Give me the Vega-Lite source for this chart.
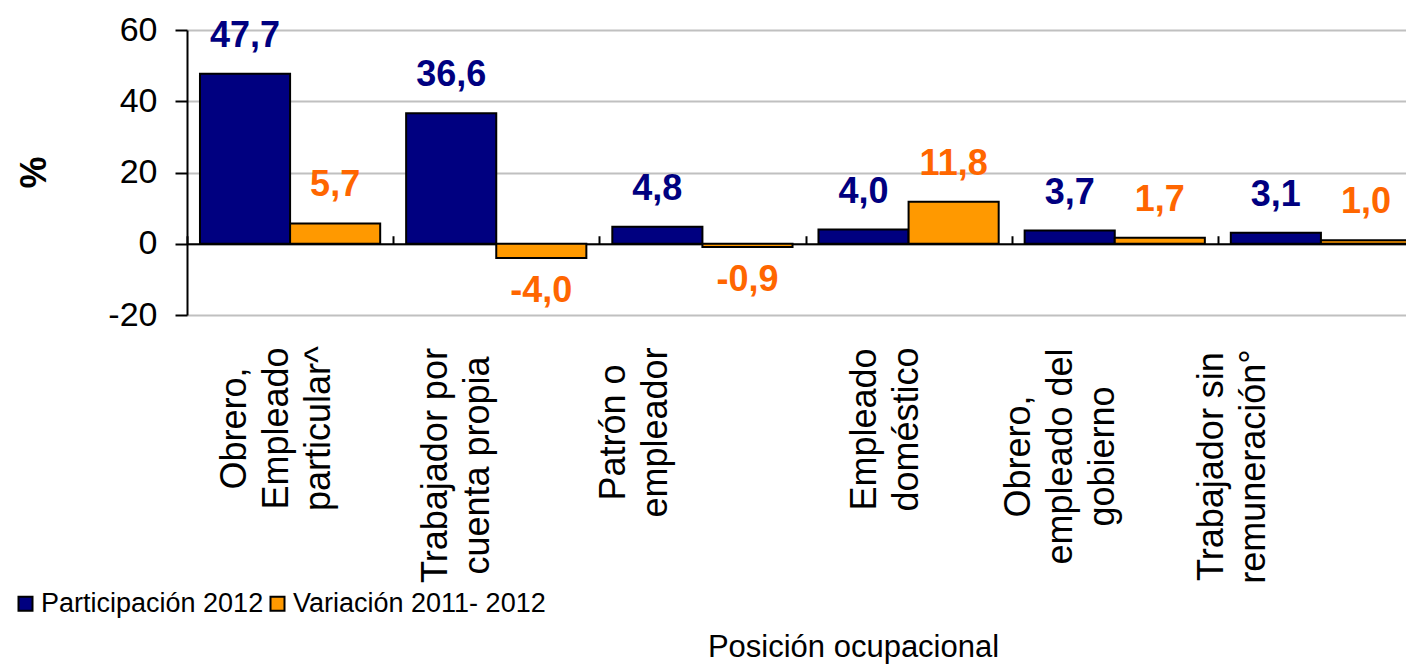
{
  "$schema": "https://vega.github.io/schema/vega-lite/v6.json",
  "autosize": {"type": "none"},
  "padding": {"left": 187, "top": 30, "right": 0, "bottom": 351},
  "width": 1237,
  "height": 285,
  "config": {
    "font": "Liberation Sans",
    "view": {"stroke": null},
    "locale": {"number": {"decimal": ",", "thousands": ".", "grouping": [3], "currency": ["", " €"], "minus": "-"}}
  },
  "data": {
    "values": [
      {"cat": "Obrero,|Empleado|particular^", "serie": "Participación 2012", "value": 47.7},
      {"cat": "Obrero,|Empleado|particular^", "serie": "Variación 2011- 2012", "value": 5.7},
      {"cat": "Trabajador por|cuenta propia", "serie": "Participación 2012", "value": 36.6},
      {"cat": "Trabajador por|cuenta propia", "serie": "Variación 2011- 2012", "value": -4.0},
      {"cat": "Patrón o|empleador", "serie": "Participación 2012", "value": 4.8},
      {"cat": "Patrón o|empleador", "serie": "Variación 2011- 2012", "value": -0.9},
      {"cat": "Empleado|doméstico", "serie": "Participación 2012", "value": 4.0},
      {"cat": "Empleado|doméstico", "serie": "Variación 2011- 2012", "value": 11.8},
      {"cat": "Obrero,|empleado del|gobierno", "serie": "Participación 2012", "value": 3.7},
      {"cat": "Obrero,|empleado del|gobierno", "serie": "Variación 2011- 2012", "value": 1.7},
      {"cat": "Trabajador sin|remuneración°", "serie": "Participación 2012", "value": 3.1},
      {"cat": "Trabajador sin|remuneración°", "serie": "Variación 2011- 2012", "value": 1.0}
    ]
  },
  "resolve": {"axis": {"x": "independent"}},
  "layer": [
    {
      "mark": {"type": "bar", "stroke": "black", "strokeWidth": 2},
      "encoding": {
        "x": {
          "field": "cat", "type": "nominal", "sort": null,
          "scale": {"paddingInner": 0, "paddingOuter": 0},
          "axis": {
            "orient": "bottom",
            "domain": false, "ticks": false, "tickSize": 0, "grid": false,
            "labelExpr": "split(datum.label, '|')",
            "labelAngle": 270, "labelAlign": "center", "labelBaseline": "middle",
            "labelFontSize": 36, "labelLineHeight": 42, "labelColor": "black",
            "labelLimit": 0,
            "labelPadding": {"condition": [
              {"test": "datum.value === 'Obrero,|Empleado|particular^'", "value": 113},
              {"test": "datum.value === 'Trabajador por|cuenta propia'", "value": 150},
              {"test": "datum.value === 'Patrón o|empleador'", "value": 117},
              {"test": "datum.value === 'Empleado|doméstico'", "value": 114},
              {"test": "datum.value === 'Obrero,|empleado del|gobierno'", "value": 141}
            ], "value": 151},
            "labelOffset": {"condition": [
              {"test": "datum.value === 'Obrero,|Empleado|particular^'", "value": -55},
              {"test": "datum.value === 'Trabajador por|cuenta propia'", "value": -60},
              {"test": "datum.value === 'Patrón o|empleador'", "value": -88},
              {"test": "datum.value === 'Empleado|doméstico'", "value": -44},
              {"test": "datum.value === 'Obrero,|empleado del|gobierno'", "value": -96}
            ], "value": -109},
            "title": "Posición ocupacional",
            "titleFontSize": 31, "titleFontWeight": "normal", "titleColor": "black",
            "titleX": 666, "titleY": 341, "titleAlign": "center", "titleBaseline": "alphabetic"
          }
        },
        "xOffset": {
          "field": "serie", "type": "nominal",
          "sort": ["Participación 2012", "Variación 2011- 2012"],
          "scale": {"paddingInner": 0, "paddingOuter": 0.144}
        },
        "y": {
          "field": "value", "type": "quantitative",
          "scale": {"domain": [-20, 60], "nice": false, "zero": false},
          "axis": {
            "values": [-20, 0, 20, 40, 60],
            "title": "%", "titleFontSize": 36, "titleFontWeight": "bold", "titleColor": "black",
            "titleAngle": 270, "titleX": -142, "titleY": 142, "titleAlign": "center", "titleBaseline": "alphabetic",
            "labelFontSize": 34, "labelColor": "black", "labelPadding": 18,
            "tickSize": 12, "tickWidth": 2, "tickColor": "black",
            "domainColor": "black", "domainWidth": 2,
            "grid": true, "gridColor": "#c0c0c0", "gridWidth": 2
          }
        },
        "fill": {
          "field": "serie", "type": "nominal",
          "sort": ["Participación 2012", "Variación 2011- 2012"],
          "scale": {"domain": ["Participación 2012", "Variación 2011- 2012"], "range": ["#000080", "#FF9900"]},
          "legend": {
            "orient": "none", "legendX": -175, "legendY": 560, "direction": "horizontal",
            "padding": 0,
            "title": null, "symbolType": "square", "symbolSize": 196,
            "symbolStrokeColor": "black", "symbolStrokeWidth": 2,
            "labelFontSize": 27, "labelColor": "black", "labelOffset": 2, "columnPadding": -4,
            "labelLimit": 0
          }
        }
      }
    },
    {
      "transform": [{"filter": "datum.value >= 0"}],
      "mark": {"type": "text", "fontSize": 36, "fontWeight": "bold", "baseline": "alphabetic", "dy": -27},
      "encoding": {
        "x": {
          "field": "cat", "type": "nominal", "sort": null,
          "axis": {
            "orient": "top", "offset": -213.75,
            "labels": false, "ticks": true, "tickSize": 8, "tickWidth": 2, "tickColor": "black",
            "tickBand": "extent", "grid": false,
            "domain": true, "domainColor": "black", "domainWidth": 2, "title": null
          }
        },
        "xOffset": {"field": "serie", "type": "nominal", "sort": ["Participación 2012", "Variación 2011- 2012"]},
        "y": {"field": "value", "type": "quantitative"},
        "text": {"field": "value", "type": "quantitative", "format": ".1f"},
        "color": {
          "field": "serie", "type": "nominal",
          "scale": {"domain": ["Participación 2012", "Variación 2011- 2012"], "range": ["#000080", "#FF6600"]},
          "legend": null
        }
      }
    },
    {
      "transform": [{"filter": "datum.value < 0"}],
      "mark": {"type": "text", "fontSize": 36, "fontWeight": "bold", "baseline": "top", "dy": 16},
      "encoding": {
        "x": {"field": "cat", "type": "nominal", "sort": null, "axis": null},
        "xOffset": {"field": "serie", "type": "nominal", "sort": ["Participación 2012", "Variación 2011- 2012"]},
        "y": {"field": "value", "type": "quantitative"},
        "text": {"field": "value", "type": "quantitative", "format": ".1f"},
        "color": {
          "field": "serie", "type": "nominal",
          "scale": {"domain": ["Participación 2012", "Variación 2011- 2012"], "range": ["#000080", "#FF6600"]},
          "legend": null
        }
      }
    }
  ]
}
